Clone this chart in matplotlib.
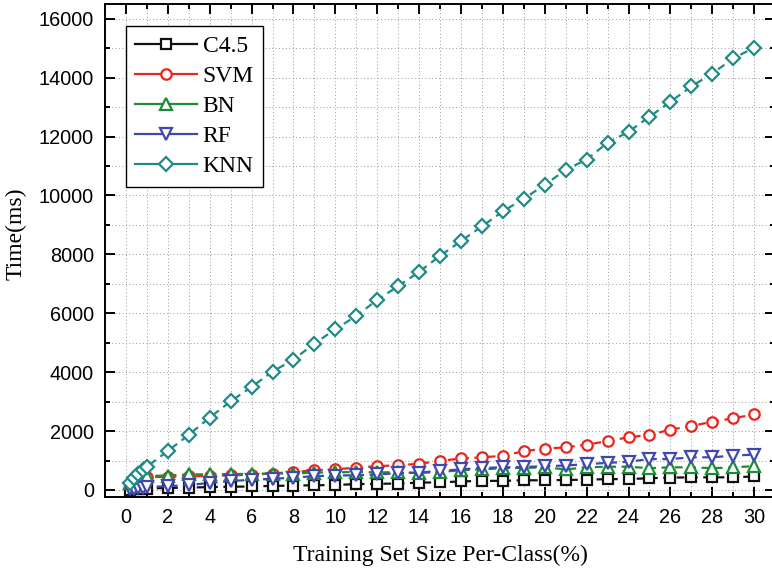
import matplotlib
matplotlib.use('Agg')
import matplotlib.pyplot as plt
import matplotlib.ticker as mticker
from matplotlib.lines import Line2D

# training set size per class (%)
x = [0.2, 0.4, 0.6, 0.8, 1, 2, 3, 4, 5, 6, 7, 8, 9, 10, 11, 12, 13, 14, 15,
     16, 17, 18, 19, 20, 21, 22, 23, 24, 25, 26, 27, 28, 29, 30]

# time (ms)
c45 = [10, 20, 30, 40, 50, 70, 80, 100, 110, 120, 140, 150, 160, 170, 200,
       210, 220, 250, 260, 290, 310, 310, 330, 330, 340, 350, 370, 370, 400,
       420, 430, 430, 430, 460]
svm = [200, 300, 370, 410, 430, 450, 460, 480, 500, 520, 560, 610, 670, 700,
       760, 810, 840, 890, 990, 1070, 1110, 1160, 1320, 1400, 1450, 1540, 1660,
       1790, 1870, 2050, 2170, 2320, 2430, 2570]
bn = [250, 330, 400, 450, 480, 490, 530, 530, 540, 550, 560, 560, 590, 600,
      610, 600, 600, 580, 610, 670, 700, 740, 750, 770, 700, 770, 790, 790,
      740, 770, 770, 740, 770, 810]
rf = [20, 40, 60, 80, 100, 130, 170, 240, 300, 350, 380, 420, 470, 490, 500,
      530, 570, 590, 650, 700, 750, 770, 780, 810, 830, 880, 920, 960, 1050,
      1050, 1110, 1110, 1170, 1200]
knn = [250, 400, 540, 670, 790, 1325, 1870, 2460, 3010, 3500, 4020, 4430,
       4970, 5460, 5910, 6455, 6920, 7405, 7950, 8450, 8950, 9460, 9890,
       10360, 10870, 11220, 11790, 12160, 12670, 13180, 13700, 14140, 14650,
       15020]

names = ['C4.5', 'SVM', 'BN', 'RF', 'KNN']
series = [c45, svm, bn, rf, knn]
colors = ['#111111', '#e8261e', '#1b8c35', '#4048b0', '#1f8a86']
markers = ['s', 'o', '^', 'v', 'D']
msizes = [6.5, 7.5, 9, 9, 7.5]

serif = ['Liberation Serif', 'DejaVu Serif']
sans = ['Liberation Sans', 'DejaVu Sans']

fig = plt.figure(figsize=(7.72, 5.72), dpi=100)
ax = fig.add_axes([0.136, 0.131, 0.868, 0.862])

handles = []
for name, y, c, m, ms in zip(names, series, colors, markers, msizes):
    ax.plot(x, y, color=c, lw=1.6, dashes=(3.5, 2.5), marker=m,
            markersize=ms, markerfacecolor='white', markeredgecolor=c,
            markeredgewidth=1.6)
    # legend shows solid lines
    handles.append(Line2D([], [], color=c, lw=1.6, marker=m, markersize=ms,
                          markerfacecolor='white', markeredgecolor=c,
                          markeredgewidth=1.6))

ax.set_xlim(-1, 31)
ax.set_ylim(-240, 16500)
ax.xaxis.set_major_locator(mticker.MultipleLocator(2))
ax.xaxis.set_minor_locator(mticker.MultipleLocator(1))
ax.yaxis.set_major_locator(mticker.MultipleLocator(2000))
ax.yaxis.set_minor_locator(mticker.MultipleLocator(1000))

ax.grid(which='both', linestyle=(0, (1, 2.5)), color='#999999', lw=0.7)
ax.tick_params(which='both', direction='in', top=True, right=True,
               width=1.4, labelsize=14.3, pad=8)
ax.tick_params(which='major', length=7)
ax.tick_params(which='minor', length=3.5)
for lab in ax.get_xticklabels() + ax.get_yticklabels():
    lab.set_family(sans)
for s in ax.spines.values():
    s.set_linewidth(1.4)

ax.set_xlabel('Training Set Size Per-Class(%)', family=serif, fontsize=17,
              labelpad=13)
ax.set_ylabel('Time(ms)', family=serif, fontsize=17)
ax.yaxis.set_label_coords(-0.117, 0.535)

leg = ax.legend(handles, names, loc='upper left',
                bbox_to_anchor=(0.031, 0.955), borderaxespad=0,
                prop={'family': serif, 'size': 17}, handlelength=2.6,
                labelspacing=0.36, fancybox=False, framealpha=1,
                borderpad=0.4, handletextpad=0.25)
leg.get_frame().set_edgecolor('black')
leg.get_frame().set_linewidth(1.0)

fig.savefig('out.png', dpi=100)
